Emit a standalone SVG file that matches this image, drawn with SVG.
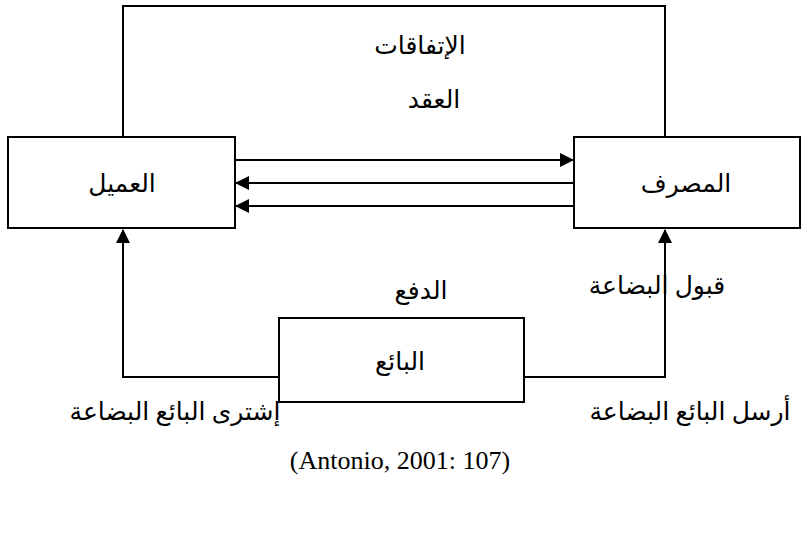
<svg xmlns="http://www.w3.org/2000/svg" width="804" height="536" viewBox="0 0 804 536">
  <style>
    .box { fill: #fff; stroke: #000; stroke-width: 2; }
    .line { fill: none; stroke: #000; stroke-width: 2; }
    .lbl { font-family: "Liberation Serif", "DejaVu Sans", serif; font-size: 25px; fill: #000; text-anchor: middle; }
    .cap { font-family: "Liberation Serif", serif; font-size: 26px; fill: #000; text-anchor: middle; }
  </style>
  <defs>
    <marker id="arrow" markerWidth="14" markerHeight="14" refX="13" refY="7" orient="auto" markerUnits="userSpaceOnUse">
      <path d="M0,0 L14,7 L0,14 Z" fill="#000"/>
    </marker>
  </defs>
  <rect width="804" height="536" fill="#fff"/>

  <!-- connectors -->
  <g id="connectors">
    <!-- agreement loop over the top -->
    <path class="line" d="M123,137 V6 H665 V137"/>
    <!-- client to bank -->
    <line class="line" x1="236" y1="160" x2="573" y2="160" marker-end="url(#arrow)"/>
    <!-- bank to client -->
    <line class="line" x1="573" y1="183" x2="236" y2="183" marker-end="url(#arrow)"/>
    <line class="line" x1="573" y1="206" x2="236" y2="206" marker-end="url(#arrow)"/>
    <!-- seller to client -->
    <path class="line" d="M278,377 H123 V230" marker-end="url(#arrow)"/>
    <!-- seller to bank -->
    <path class="line" d="M524,377 H665 V230" marker-end="url(#arrow)"/>
  </g>

  <g id="client">
    <rect class="box" x="8" y="137" width="227" height="91"/>
    <text class="lbl" x="122" y="192">العميل</text>
  </g>

  <g id="bank">
    <rect class="box" x="574" y="137" width="226" height="91"/>
    <text class="lbl" x="686" y="192">المصرف</text>
  </g>

  <g id="seller">
    <rect class="box" x="279" y="318" width="245" height="84"/>
    <text class="lbl" x="400" y="370">البائع</text>
  </g>

  <!-- flow labels -->
  <text class="lbl" x="420" y="54">الإتفاقات</text>
  <text class="lbl" x="434" y="108">العقد</text>
  <text class="lbl" x="421" y="299">الدفع</text>
  <text class="lbl" x="657" y="294">قبول البضاعة</text>
  <text class="lbl" x="175" y="420">إشترى البائع البضاعة</text>
  <text class="lbl" x="690" y="420">أرسل البائع البضاعة</text>
  <text class="cap" x="400" y="469" direction="ltr">(Antonio, 2001: 107)</text>
</svg>
